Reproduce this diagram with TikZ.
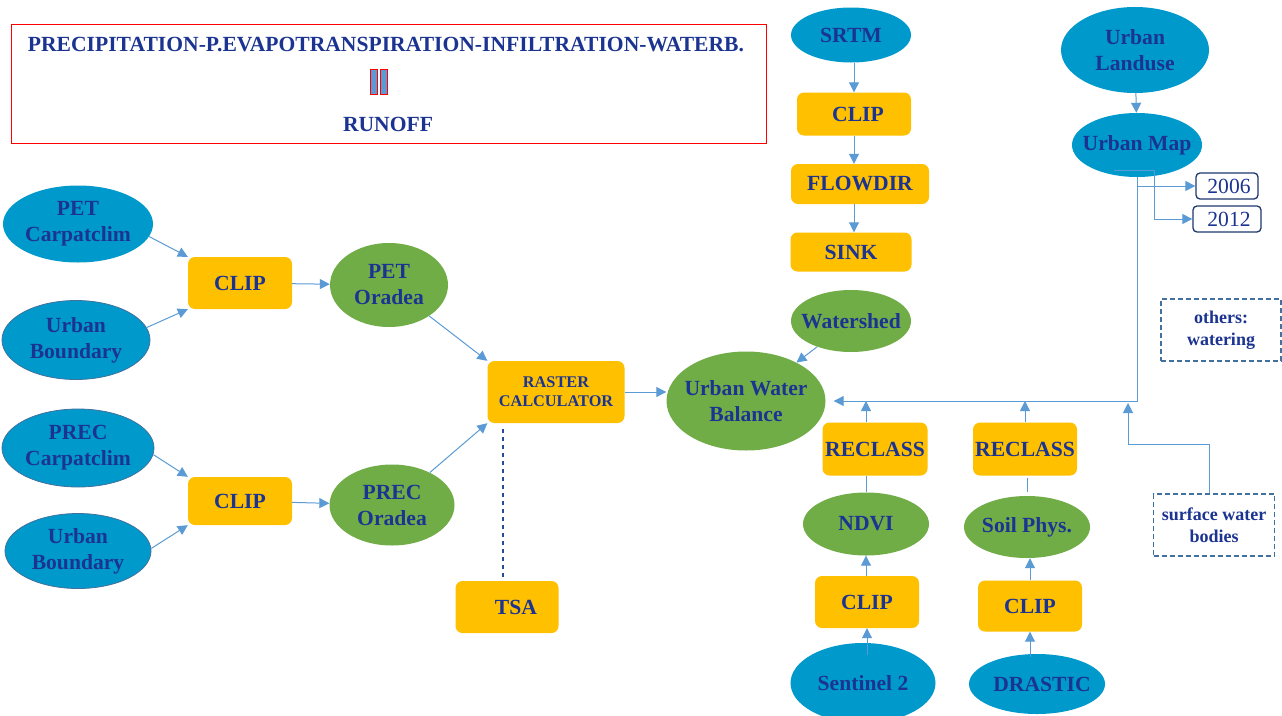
\documentclass[tikz,border=0pt]{standalone}
\usepackage{fontspec}
\setmainfont{Liberation Serif}
\usetikzlibrary{shapes.geometric,arrows.meta,calc}
\definecolor{txt}{RGB}{28,52,145}
\definecolor{cblue}{RGB}{0,153,204}
\definecolor{cgreen}{RGB}{112,173,71}
\definecolor{corange}{RGB}{255,192,0}
\definecolor{carrow}{RGB}{91,155,213}
\definecolor{cedge}{RGB}{65,113,156}
\definecolor{cyear}{RGB}{31,56,110}
\definecolor{cdash}{RGB}{40,75,150}
\begin{document}
\begin{tikzpicture}[x=1pt,y=-1pt,
 base/.style={inner sep=0pt, text=txt, font=\fontsize{21.6}{26}\selectfont\bfseries, align=center},
 ellb/.style={base, ellipse, fill=cblue},
 ellg/.style={base, ellipse, fill=cgreen},
 edged/.style={draw=cedge, line width=0.8pt},
 box/.style={base, rectangle, rounded corners=7pt, fill=corange},
 lbl/.style={text=txt, font=\fontsize{21.6}{26}\selectfont\bfseries, align=center, inner sep=0pt},
 arr/.style={draw=carrow, line width=1pt, -{Triangle[length=10pt,width=10pt]}},
 ln/.style={draw=carrow, line width=1pt},
 yearbox/.style={rectangle, rounded corners=4pt, draw=cyear, line width=1.3pt, fill=white, text=txt, font=\fontsize{21.6}{26}\selectfont, inner sep=0pt},
 dbox/.style={rectangle, draw=cedge, line width=1.3pt, dash pattern=on 5pt off 3pt, text=txt, font=\fontsize{18}{22}\selectfont\bfseries, align=center, inner sep=0pt},
 barbox/.style={rectangle, draw=red, fill=carrow, line width=1.2pt, minimum width=7pt, minimum height=25pt, inner sep=0pt},
 dashl/.style={draw=cdash, line width=1.2pt, dash pattern=on 4pt off 4pt},
]
\fill[white] (0,0) rectangle (1282,715);
\useasboundingbox (0,0) rectangle (1282,715);

% top formula box
\node[draw=red, line width=1pt, minimum width=755pt, minimum height=119pt, inner sep=0pt] (formula) at (388.5,83.5) {};
\node[base] (ftitle) at (386,45) {PRECIPITATION-P.EVAPOTRANSPIRATION-INFILTRATION-WATERB.};
\node[barbox] (bar1) at (374,82) {};
\node[barbox] (bar2) at (384,82) {};
\node[base] (runoff) at (388,124) {RUNOFF};

% left inputs
\node[ellb, minimum width=150pt, minimum height=77pt, label={[lbl]center:{PET\\Carpatclim}}] (petc) at (78,224) {};
\node[ellb, edged, minimum width=148pt, minimum height=79pt, label={[lbl]center:{Urban\\Boundary}}] (ub1) at (76,340) {};
\node[ellb, edged, minimum width=152pt, minimum height=78pt, label={[lbl]center:{PREC\\Carpatclim}}] (precc) at (78,448) {};
\node[ellb, edged, minimum width=146pt, minimum height=75pt, label={[lbl]center:{Urban\\Boundary}}] (ub2) at (78,551) {};

\node[box, minimum width=104pt, minimum height=52pt] (clip1) at (240,283) {CLIP};
\node[box, minimum width=104pt, minimum height=48pt] (clip2) at (240,501) {CLIP};

\node[ellg, minimum width=118pt, minimum height=84pt, label={[lbl]center:{PET\\Oradea}}] (peto) at (389,285) {};
\node[ellg, minimum width=125pt, minimum height=81pt, label={[lbl]center:{PREC\\Oradea}}] (preco) at (392,505) {};

\node[box, minimum width=137pt, minimum height=62pt, font=\fontsize{16.3}{19}\selectfont\bfseries] (rc) at (556,392) {RASTER\\CALCULATOR};
\node[box, minimum width=103pt, minimum height=52pt] (tsa) at (507,607) {\hspace*{18pt}TSA};

\node[ellg, minimum width=159pt, minimum height=99pt, label={[lbl]center:{Urban Water\\Balance}}] (uwb) at (746,401) {};

% SRTM column
\node[ellb, minimum width=120pt, minimum height=55pt, label={[lbl]center:SRTM}] (srtm) at (851,35) {};
\node[box, minimum width=114pt, minimum height=43pt] (clip0) at (854,114) {\hspace*{8pt}CLIP};
\node[box, minimum width=138pt, minimum height=40pt] (flow) at (860,184) {FLOWDIR};
\node[box, minimum width=121pt, minimum height=39pt] (sink) at (851,252) {SINK};
\node[ellg, minimum width=120pt, minimum height=62pt, label={[lbl]center:Watershed}] (ws) at (851,321) {};

% urban landuse column
\node[ellb, minimum width=148pt, minimum height=86pt, label={[lbl]center:{Urban\\Landuse}}] (ul) at (1135,50) {};
\node[ellb, minimum width=130pt, minimum height=64pt, label={[lbl]center:{Urban Map}}] (um) at (1137,145) {};
\node[yearbox, minimum width=62pt, minimum height=26pt] (y2006) at (1227,186) {\hspace*{4pt}2006};
\node[yearbox, minimum width=68pt, minimum height=26pt] (y2012) at (1227,219) {\hspace*{4pt}2012};
\node[dbox, minimum width=120pt, minimum height=62pt] (ow) at (1221,330) {others:\\watering};
\node[dbox, minimum width=121pt, minimum height=62pt] (swb) at (1214,525) {surface water\\bodies};

% bottom right
\node[box, minimum width=105pt, minimum height=53pt] (rc1) at (875,449) {RECLASS};
\node[box, minimum width=104pt, minimum height=53pt] (rc2) at (1025,449) {RECLASS};
\node[ellg, minimum width=126pt, minimum height=63pt, label={[lbl]center:NDVI}] (ndvi) at (866,524) {};
\node[ellg, minimum width=126pt, minimum height=62pt, label={[lbl]center:{Soil Phys.}}] (soil) at (1027,527) {};
\node[box, minimum width=104pt, minimum height=52pt] (clip3) at (867,602) {CLIP};
\node[box, minimum width=104pt, minimum height=51pt] (clip4) at (1030,606) {CLIP};
\node[ellb, minimum width=145pt, minimum height=80pt, label={[lbl]center:{Sentinel 2}}] (s2) at (863,683) {};
\node[ellb, minimum width=136pt, minimum height=60pt, label={[lbl]center:\hspace*{10pt}DRASTIC}] (dr) at (1037,684) {};

% connectors left
\draw[arr] (petc.-10) -- (clip1.north west);
\draw[arr] (ub1.10) -- (clip1.south west);
\draw[arr] (precc.-5) -- (clip2.north west);
\draw[arr] (ub2.2) -- (clip2.south west);
\draw[arr] (clip1) -- (peto);
\draw[arr] (clip2) -- (preco);
\draw[arr] (peto) -- (rc.north west);
\draw[arr] (preco) -- (rc.south west);
\draw[arr] (rc.east) -- (uwb.west |- rc.east);
\draw[dashl] ([xshift=-4pt,yshift=4pt]tsa.north) -- ([xshift=-53pt,yshift=-5pt]rc.south);

% SRTM chain
\draw[arr] (srtm.south -| clip0.north) -- (clip0.north);
\draw[arr] (clip0.south) -- (clip0.south |- flow.north);
\draw[arr] (clip0.south |- flow.south) -- (clip0.south |- sink.north);
\draw[arr] (ws) -- (uwb);

% urban map
\coordinate (j) at (um.south |- uwb.east);
\draw[arr] (ul) -- (um);
\draw[arr, shorten >=8pt] (um.south) |- (uwb.east);
\draw[arr] (um.south |- y2006.west) -- (y2006.west);
\draw[arr] ([xshift=-23pt,yshift=7pt]um.south) -- ++(40,0) |- (y2012.west);
\draw[arr] ([xshift=-5pt]swb.north) -- ++(0,-49) -| ($(j)+(-9,2)$);

% reclass chains
\draw[arr] (rc1.north -| ndvi.north) -- (ndvi.north |- j);
\draw[arr] (rc2.north) -- (rc2.north |- j);
\draw[ln] (ndvi.north) -- (ndvi.north |- rc1.south);
\draw[ln] ([yshift=4pt]soil.north) -- ([yshift=-2pt]soil.north |- rc2.south);
\draw[arr] (clip3.north -| ndvi.south) -- (ndvi.south);
\draw[arr] (clip4.north) -- (clip4.north |- soil.south);
\draw[arr] ([yshift=-12pt]s2.north -| clip3.south) -- (clip3.south);
\draw[arr] ([yshift=-3pt]dr.north -| clip4.south) -- (clip4.south);
\end{tikzpicture}
\end{document}
